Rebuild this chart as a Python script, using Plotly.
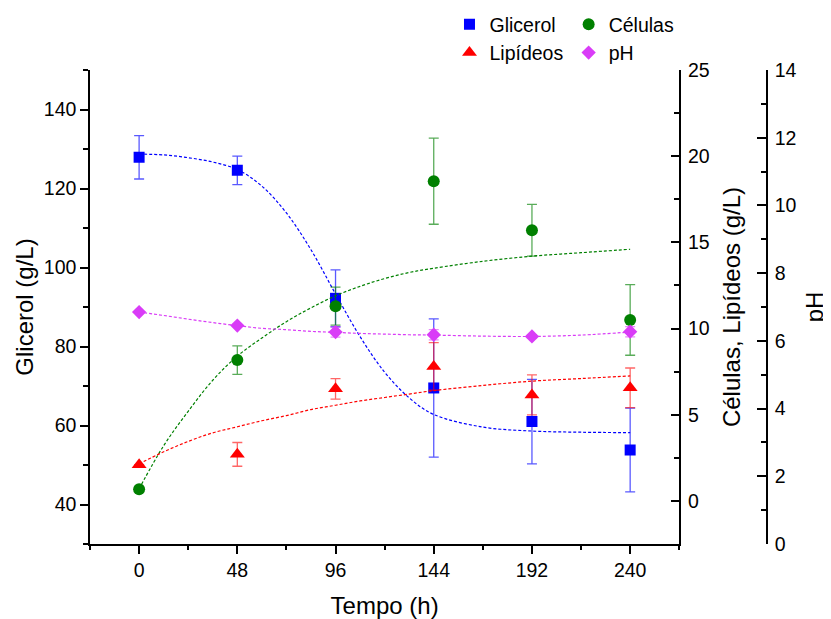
import plotly.graph_objects as go

# ---- data ----
time = [0, 48, 96, 144, 192, 240]
glicerol = [127.9, 124.6, 92.2, 69.5, 61.0, 53.8]
glicerol_err = [5.5, 3.6, 7.2, 17.5, 10.7, 10.6]
celulas = [0.68, 8.17, 11.3, 18.55, 15.7, 10.5]
celulas_err = [0, 0.83, 1.1, 2.5, 1.5, 2.05]
lipideos = [2.1, 2.7, 6.5, 7.8, 6.15, 6.56]
lipideos_err = [0, 0.69, 0.6, 1.38, 1.16, 1.15]
ph = [6.85, 6.45, 6.26, 6.18, 6.13, 6.27]
ph_err = [0, 0, 0.15, 0.15, 0.05, 0.15]

# fitted curves
fit_t = [0, 12, 24, 36, 48, 60, 72, 84, 96, 108, 120, 132, 144, 168, 192, 216, 240]
fit_glicerol = [128.7, 128.5, 127.8, 126.7, 124.8, 120.6, 113.8, 104.5, 93.3, 82.5,
                73.5, 67.0, 62.8, 59.6, 58.6, 58.3, 58.2]
fit_celulas = [0.7, 3.2, 5.2, 7.0, 8.4, 9.45, 10.4, 11.2, 11.9, 12.45, 12.9, 13.25,
               13.5, 13.9, 14.2, 14.4, 14.6]
fit_lipideos = [2.15, 2.85, 3.45, 3.95, 4.3, 4.65, 4.95, 5.3, 5.55, 5.8, 6.0, 6.2,
                6.4, 6.7, 6.95, 7.1, 7.25]
fit_ph = [6.85, 6.75, 6.64, 6.54, 6.45, 6.37, 6.33, 6.28, 6.25, 6.22, 6.2, 6.18,
          6.17, 6.14, 6.13, 6.17, 6.26]

BLUE = "#0000FF"
RED = "#FF0000"
GREEN = "#008000"
MAG = "#D93CF7"
FONT = "Arial, Liberation Sans, sans-serif"

fig = go.Figure()

fit_line = dict(width=1.2, dash="3px,2px", shape="spline")
fig.add_trace(go.Scatter(x=fit_t, y=fit_glicerol, mode="lines", yaxis="y",
                         line=dict(color=BLUE, **fit_line), showlegend=False, hoverinfo="skip"))
fig.add_trace(go.Scatter(x=fit_t, y=fit_celulas, mode="lines", yaxis="y2",
                         line=dict(color=GREEN, **fit_line), showlegend=False, hoverinfo="skip"))
fig.add_trace(go.Scatter(x=fit_t, y=fit_lipideos, mode="lines", yaxis="y2",
                         line=dict(color=RED, **fit_line), showlegend=False, hoverinfo="skip"))
fig.add_trace(go.Scatter(x=fit_t, y=fit_ph, mode="lines", yaxis="y3",
                         line=dict(color=MAG, **fit_line), showlegend=False, hoverinfo="skip"))


def err(vals, color):
    return dict(type="data", array=vals, visible=True, color=color, thickness=1.3, width=5)


fig.add_trace(go.Scatter(x=time, y=ph, mode="markers", name="pH", yaxis="y3",
                         marker=dict(symbol="diamond", size=11, color=MAG),
                         error_y=err(ph_err, "rgba(217,60,247,0.6)"), legend="legend2"))
fig.add_trace(go.Scatter(x=time, y=lipideos, mode="markers", name="Lipídeos", yaxis="y2",
                         marker=dict(symbol="triangle-up", size=13, color=RED),
                         error_y=err(lipideos_err, "rgba(255,0,0,0.6)"), legend="legend"))
fig.add_trace(go.Scatter(x=time, y=celulas, mode="markers", name="Células", yaxis="y2",
                         marker=dict(symbol="circle", size=12, color=GREEN),
                         error_y=err(celulas_err, "rgba(0,128,0,0.65)"), legend="legend2"))
fig.add_trace(go.Scatter(x=time, y=glicerol, mode="markers", name="Glicerol", yaxis="y",
                         marker=dict(symbol="square", size=11, color=BLUE),
                         error_y=err(glicerol_err, "rgba(0,0,255,0.65)"), legend="legend"))

axis_common = dict(showline=True, linecolor="black", linewidth=1.5, showgrid=False,
                   zeroline=False, tickcolor="black", tickwidth=1.5, automargin=False,
                   tickfont=dict(family=FONT, size=19.5, color="black"))

# the page body has an 8px default margin, so the figure is 8px smaller
fig.update_layout(
    width=823, height=611,
    paper_bgcolor="white", plot_bgcolor="white",
    margin=dict(l=82, r=64, t=62, b=75, autoexpand=False),
    font=dict(family=FONT, color="black"),
    xaxis=dict(domain=[0, 0.8704], range=[-24, 264], tickmode="linear", tick0=0, dtick=48,
               ticks="outside", ticklen=8,
               minor=dict(ticks="outside", ticklen=4.5, dtick=24, tick0=0, tickcolor="black", tickwidth=1.5),
               title=dict(text="Tempo (h)", font=dict(family=FONT, size=24), standoff=19),
               **axis_common),
    yaxis=dict(range=[30, 150], tickmode="linear", tick0=40, dtick=20,
               ticks="outside", ticklen=8, anchor="x",
               minor=dict(ticks="outside", ticklen=5, dtick=10, tick0=30, tickcolor="black", tickwidth=1.5),
               title=dict(text="Glicerol (g/L)", font=dict(family=FONT, size=24), standoff=3),
               **axis_common),
    yaxis2=dict(range=[-2.5, 25], tickmode="linear", tick0=0, dtick=5, overlaying="y",
                side="right", anchor="x", ticks="inside", ticklen=9, ticklabelstandoff=3,
                minor=dict(ticks="inside", ticklen=5.5, dtick=2.5, tick0=0, tickcolor="black", tickwidth=1.5),
                title=dict(text="Células, Lipídeos (g/L)", font=dict(family=FONT, size=24), standoff=14),
                **axis_common),
    yaxis3=dict(range=[0, 14], tickmode="linear", tick0=0, dtick=2, overlaying="y",
                side="right", anchor="free", position=1.0, ticks="inside", ticklen=9, ticklabelstandoff=3,
                minor=dict(ticks="inside", ticklen=5, dtick=1, tick0=0, tickcolor="black", tickwidth=1.5),
                title=dict(text="pH", font=dict(family=FONT, size=24), standoff=10),
                **axis_common),
    legend=dict(x=0.531, y=1.137, xanchor="left", yanchor="top", orientation="v",
                font=dict(family=FONT, size=19.5), bgcolor="rgba(0,0,0,0)",
                traceorder="reversed", tracegroupgap=0),
    legend2=dict(x=0.707, y=1.137, xanchor="left", yanchor="top", orientation="v",
                 font=dict(family=FONT, size=19.5), bgcolor="rgba(0,0,0,0)",
                 traceorder="reversed", tracegroupgap=0),
)

fig.write_html("out.html")
